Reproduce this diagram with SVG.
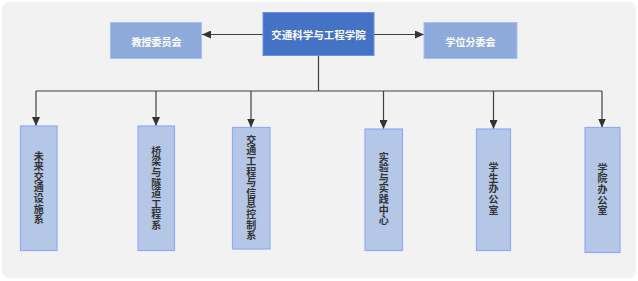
<svg xmlns="http://www.w3.org/2000/svg" width="638" height="281" viewBox="0 0 638 281">
<style>
text{font-family:"Noto Sans CJK SC","Noto Sans",sans-serif;font-weight:bold;text-anchor:middle;dominant-baseline:central}
.top{fill:#4472c4;stroke:#6d8fe8;stroke-width:1}
.side{fill:#8eaadb;stroke:#a8c0f5;stroke-width:1}
.child{fill:#b4c7e7;stroke:#8faaf8;stroke-width:1.2}
.wt{fill:#ffffff;font-size:10.5px}
.ws{fill:#ffffff;font-size:10px}
.dt{fill:#333333;font-size:10px;writing-mode:vertical-rl;letter-spacing:0.6px}
.ln{stroke:#404040;stroke-width:1.2;fill:none}
</style>
<defs>
<marker id="ah" markerWidth="10" markerHeight="8" refX="9" refY="4" orient="auto" markerUnits="userSpaceOnUse">
<path d="M0,0 L9,4 L0,8 Z" fill="#333333"/>
</marker>
</defs>
<rect x="0" y="0" width="638" height="281" fill="#ffffff"/>
<rect x="2" y="2" width="634" height="276" rx="7" fill="#f2f2f2"/>
<g id="connectors">
<path class="ln" d="M263,34.5 L202,34.5" marker-end="url(#ah)"/>
<path class="ln" d="M374,34.5 L424,34.5" marker-end="url(#ah)"/>
<path class="ln" d="M318.5,56 L318.5,91 M36,91 L602,91"/>
<path class="ln" d="M36,91 L36,126" marker-end="url(#ah)"/>
<path class="ln" d="M156,91 L156,126" marker-end="url(#ah)"/>
<path class="ln" d="M251,91 L251,127.5" marker-end="url(#ah)"/>
<path class="ln" d="M383.5,91 L383.5,129" marker-end="url(#ah)"/>
<path class="ln" d="M493.5,91 L493.5,129" marker-end="url(#ah)"/>
<path class="ln" d="M602,91 L602,127.5" marker-end="url(#ah)"/>
</g>
<g id="n-college">
<rect class="top" x="263" y="12.5" width="111" height="43"/>
<text class="wt" x="318.5" y="34">交通科学与工程学院</text>
</g>
<g id="n-professors">
<rect class="side" x="110.5" y="22.5" width="91" height="36"/>
<text class="ws" x="156.5" y="41">教授委员会</text>
</g>
<g id="n-degree">
<rect class="side" x="424" y="22.5" width="93" height="36"/>
<text class="ws" x="470.5" y="41">学位分委会</text>
</g>
<g id="n-future">
<rect class="child" x="20.5" y="126" width="36.5" height="124.5"/>
<text class="dt" x="38.7" y="188">未来交通设施系</text>
</g>
<g id="n-bridge">
<rect class="child" x="138" y="126" width="36.5" height="124.5"/>
<text class="dt" x="156.2" y="188.4">桥梁与隧道工程系</text>
</g>
<g id="n-traffic">
<rect class="child" x="232.5" y="127.5" width="37.5" height="121.5"/>
<text class="dt" x="251.2" y="188">交通工程与信息控制系</text>
</g>
<g id="n-lab">
<rect class="child" x="365" y="129" width="37.5" height="121.5"/>
<text class="dt" x="383.7" y="189">实验与实践中心</text>
</g>
<g id="n-student">
<rect class="child" x="476.5" y="129" width="34" height="121.5"/>
<text class="dt" x="493.5" y="189">学生办公室</text>
</g>
<g id="n-office">
<rect class="child" x="585" y="127.5" width="35" height="125"/>
<text class="dt" x="602.5" y="189.6">学院办公室</text>
</g>
</svg>
